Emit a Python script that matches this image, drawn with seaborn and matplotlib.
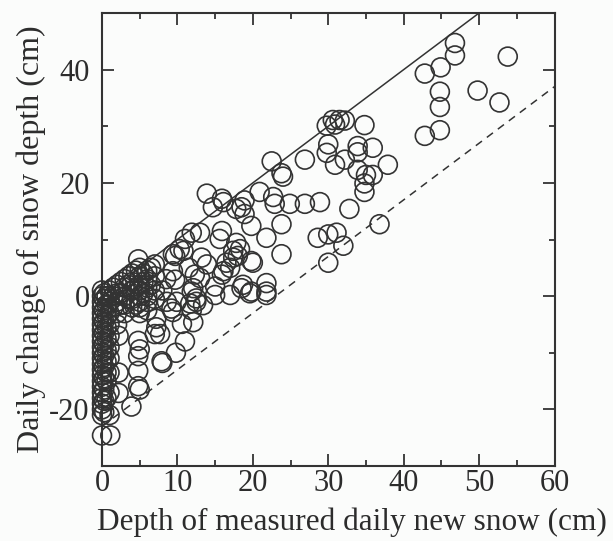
import matplotlib
matplotlib.use("Agg")
import matplotlib.pyplot as plt
import seaborn as sns
import pandas as pd

# ---- data: (new snow depth, daily change of snow depth) in cm ----
new_snow_zero = [0, 0, 0, 0, 0, 0, 0, 0, 0, 0, 0, 0, 0, 0, 0, 0, 0, 0, 0, 0, 0, 0, 0, 0,
                 0.3, 0.3, 0.3, 0.3, 0.3, 0.3, 0.3, 0.3, 0.3, 0.3, 0.3, 0.3,
                 0.6, 0.6, 0.6, 0.6, 0.6, 0.6, 0.6, 0.6, 0.6, 0.6,
                 1, 1, 1, 1, 1, 1, 1, 1, 1, 1, 1.1]
change_zero = [1, 0, -1, -2, -3, -4, -5, -6, -7, -8, -9, -10, -11, -12, -13, -14, -15, -16, -17, -18, -19, -20, -21, -24.6,
               0.5, -0.5, -2.5, -4.5, -6.5, -8.5, -10.5, -12.5, -14.5, -16.5, -18.5, -20.5,
               0, -1.5, -3.5, -5.5, -7.5, -9.5, -11.5, -13.5, -15, -18,
               1, -1, -3, -5, -7, -9, -11, -13.5, -17, -21, -24.6]

new_snow_low = [1.5, 1.5, 1.5, 2, 2, 2, 2, 2, 2.2, 2.2, 2.2,
                2.5, 2.5, 2.5, 3, 3, 3, 3, 3,
                3.5, 3.5, 3.5, 4, 4, 4, 4, 4, 3.9,
                4.5, 4.5, 4.5,
                4.8, 5, 5, 5, 5, 5, 5, 5, 5, 4.8, 5, 4.8, 4.8, 4.8, 5,
                5.5, 5.5, 5.5, 6, 6, 6, 6, 6, 6,
                6.5, 6.5, 7, 7, 7, 7, 7, 7.9, 7.2, 7.2,
                8.6, 9.4, 7.7, 8, 9.8, 11, 9.4, 9.7, 9.4, 9.7, 8, 8.5,
                9.9, 9.2, 11.7, 11.9, 10.6]
change_low = [1.5, 0, -2, 2, 0.5, -1, -3, -5, -7, -13.5, -17.1,
              2.5, 0.5, -1.5, 3, 1.5, 0, -1.5, -3,
              3.5, 2, -0.5, 4, 2.5, 1, -0.5, -2, -19.5,
              4.5, 1.5, -1.5,
              6.5, 5, 3.5, 2, 1, 0, -1, -2, -3, -7.9, -9.4, -10.6, -13.2, -15.9, -16.5,
              4, 2.5, 0.5, 4.5, 3, 1.5, 0, -1, -2.5,
              5, 2, 5.6, 3.5, 1, -0.5, -6.7, -11.5, -5.5, -4,
              -1, -2.8, -6.7, -11.8, -10, -8, 4.4, 2.9, 7.4, 7.1, 1, 3,
              -1, -2.2, -1.3, -2.5, -4.9]

new_snow_mid = [10.3, 10.8, 11, 11.9, 13, 12.1, 11.9, 12.5, 12.5, 12.1, 13.4, 13, 12.3, 13.2, 13.9, 11.5,
                13.9, 14.7, 16.1, 15.9, 17.8, 18.9, 18.5, 18.9, 20.9, 19.8, 22.7, 22.9, 24.9, 26.9, 28.9,
                15.9, 15.6, 17.8, 18.3, 17.4, 16.5, 17.4, 16.1, 15.9, 19.8, 17, 18, 20,
                15, 15, 17, 18.7, 18.5, 19.6, 19.8, 21.8, 21.8, 21.8,
                21.8, 23.8, 23.8, 22.5, 23.8, 24, 26.9]
change_mid = [8.3, 8, 10.1, 11.2, 11.2, 1.4, 0.8, -0.4, -1, -4.6, -1.6, 3.2, 3.8, 6.8, 5.6, 5,
              18.1, 15.7, 16.6, 17.2, 15.4, 16.9, 15.7, 14.5, 18.4, 12.4, 17.5, 16.3, 16.3, 16.3, 16.6,
              11.5, 10.1, 9.4, 8.3, 8, 5.9, 6.8, 4.4, 3.8, 6.2, 5, 7.1, 5.9,
              1.7, 0.2, 0.2, 2, 1.4, 0.5, 0.8, 2.3, 0.8, 0.2,
              10.3, 12.7, 7.4, 23.8, 21.7, 21.1, 24.1]

new_snow_high = [30, 28.6, 30, 31.1, 32, 32.8, 36.8,
                 29.8, 30.6, 31.5, 32.2, 30.9, 34.8, 30, 29.8, 30.9, 32.2, 33.9, 33.9, 35.9, 37.9,
                 33.9, 35, 35.9, 34.8, 34.8,
                 46.8, 46.8, 53.8, 44.9, 42.8, 44.8, 49.8, 44.8, 52.7, 44.8, 42.8]
change_high = [5.9, 10.3, 10.9, 11.2, 8.9, 15.4, 12.7,
               30.1, 31.1, 31.1, 31, 30.3, 30.2, 26.8, 25.3, 23.2, 24.1, 26.5, 25.4, 26.2, 23.2,
               22.3, 21.4, 21.4, 19.9, 18.4,
               44.7, 42.5, 42.3, 40.4, 39.3, 36.1, 36.3, 33.4, 34.2, 29.3, 28.3]

# reference lines: y = x + offset
line_offsets = [0, -23]
line_styles = ["-", "--"]

x_label = "Depth of measured daily new snow (cm)"
y_label = "Daily change of snow depth (cm)"
x_ticks = [0, 10, 20, 30, 40, 50, 60]
y_ticks = [-20, 0, 20, 40]

df = pd.DataFrame({
    "new": new_snow_zero + new_snow_low + new_snow_mid + new_snow_high,
    "change": change_zero + change_low + change_mid + change_high,
})

# ---- figure ----
sns.set_style("ticks")
plt.rcParams["font.family"] = ["Liberation Serif", "DejaVu Serif"]
plt.rcParams["axes.unicode_minus"] = False
ink = "#333333"
txt = "#2c2c2c"
bg = "#fbfcfb"

fig = plt.figure(figsize=(6.13, 5.41), dpi=100)
fig.patch.set_facecolor(bg)
ax = fig.add_axes([0.1664, 0.1386, 0.7382, 0.8374])
ax.set_facecolor(bg)

sns.scatterplot(data=df, x="new", y="change", ax=ax, marker="o", s=185,
                color=ink, edgecolor=ink, linewidth=1.2, legend=False,
                clip_on=False, zorder=3)
for coll in ax.collections:
    coll.set_facecolor("none")
    coll.set_edgecolor(ink)

for off, ls in zip(line_offsets, line_styles):
    if ls == "--":
        ax.axline((0, off), slope=1, color=ink, lw=1.1, linestyle=(0, (5, 4)))
    else:
        ax.axline((0, off), slope=1, color=ink, lw=1.1, linestyle=ls)

ax.set_xlim(0, 60)
ax.set_ylim(-30, 50)
ax.set_xticks(x_ticks)
ax.set_yticks(y_ticks)
ax.set_xticks([5, 15, 25, 35, 45, 55], minor=True)
ax.set_yticks([-30, -10, 10, 30, 50], minor=True)
ax.tick_params(which="both", direction="in", top=True, right=True, color=ink,
               labelsize=22, labelcolor=txt, width=1.3)
ax.tick_params(axis="x", which="both", pad=2)
ax.tick_params(axis="y", which="both", pad=9)
ax.tick_params(which="major", length=8.5)
ax.tick_params(which="minor", length=4.3)
for sp in ax.spines.values():
    sp.set_linewidth(1.5)
    sp.set_color(ink)
    sp.set_visible(True)

ax.set_xlabel(x_label, fontsize=22.5, color=txt, labelpad=7, x=0.553)
ax.set_ylabel(y_label, fontsize=23, color=txt, labelpad=2)

fig.savefig("out.png", dpi=100, facecolor=fig.get_facecolor())
